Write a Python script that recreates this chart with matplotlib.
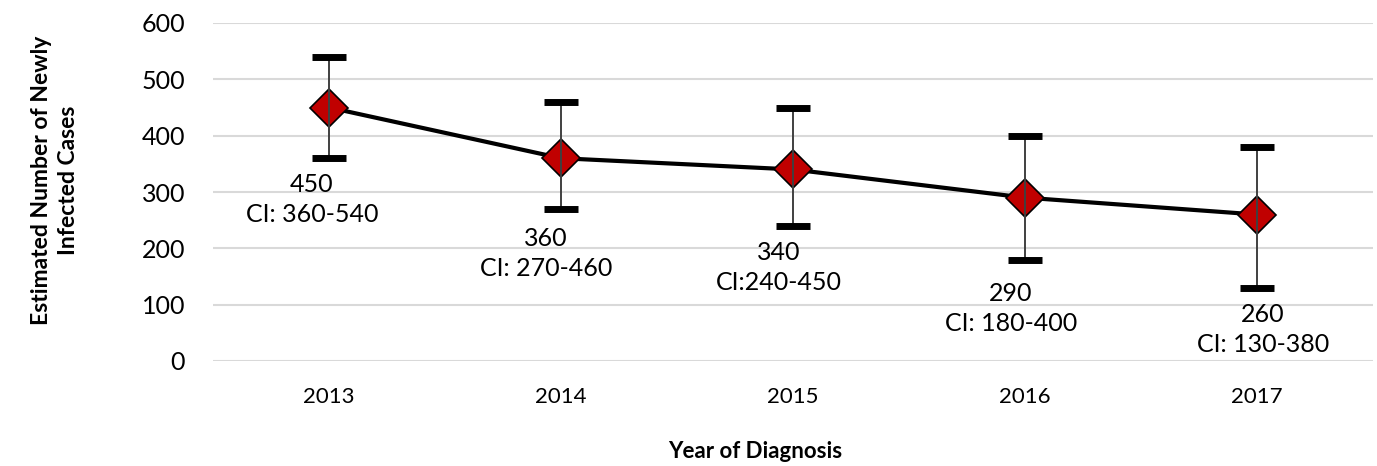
import matplotlib.pyplot as plt
import numpy as np

plt.rcParams['font.family'] = ['Lato', 'DejaVu Sans']

years = ['2013', '2014', '2015', '2016', '2017']
estimates = [450, 360, 340, 290, 260]
ci_low = [360, 270, 240, 180, 130]
ci_high = [540, 460, 450, 400, 380]
ci_sep = [' ', ' ', '', ' ', ' ']  # the 2015 label has no space after "CI:"

# label block offsets from each point, in pixels (right, down)
label_offsets = [(-17, 92), (-15, 95), (-14, 98), (-14, 111), (6, 115)]

W, H = 1377, 466
fig = plt.figure(figsize=(W / 100, H / 100), dpi=100)
ax = fig.add_axes([213 / W, 1 - 361 / H, 1160 / W, 338 / H])

x = np.arange(len(years))
est = np.array(estimates)
lo = est - np.array(ci_low)
hi = np.array(ci_high) - est

ax.plot(x, est, color='black', lw=3, zorder=2)
ax.plot(x, est, linestyle='none', marker='D', ms=19, markerfacecolor='#C00000',
        markeredgecolor='black', markeredgewidth=1.2, zorder=3)
_, caps, _ = ax.errorbar(x, est, yerr=[lo, hi], fmt='none', ecolor='#404040',
                         elinewidth=1.4, capsize=12, capthick=5, zorder=4)
for c in caps:
    c.set_markeredgecolor('black')
    c.set_markerfacecolor('black')

for i in range(len(years)):
    txt = f"{estimates[i]}\nCI:{ci_sep[i]}{ci_low[i]}-{ci_high[i]}"
    dx, dy = label_offsets[i]
    ax.annotate(txt, (x[i], est[i]), xytext=(dx, -dy), textcoords='offset pixels',
                ha='center', va='center', multialignment='center', fontsize=18,
                linespacing=1.35, color='black')

ax.set_xlim(-0.5, len(years) - 0.5)
ax.set_ylim(0, 600)
ax.set_yticks(range(0, 601, 100))
ax.set_xticks(x)
ax.set_xticklabels(years)
ax.grid(axis='y', color='#D9D9D9', lw=1.5)
ax.set_axisbelow(True)
for s in ax.spines.values():
    s.set_visible(False)
ax.tick_params(axis='y', length=0, pad=20, labelsize=18)
ax.tick_params(axis='x', length=0, pad=19, labelsize=16)

fig.text(55 / W, 1 - 180 / H, 'Estimated Number of Newly\nInfected Cases', rotation=90,
         ha='center', va='center', fontsize=16.5, fontweight='bold', linespacing=1.3)
fig.text(755 / W, 1 - 452 / H, 'Year of Diagnosis', ha='center', va='center',
         fontsize=16, fontweight='bold')

fig.savefig('out.png', dpi=100)
